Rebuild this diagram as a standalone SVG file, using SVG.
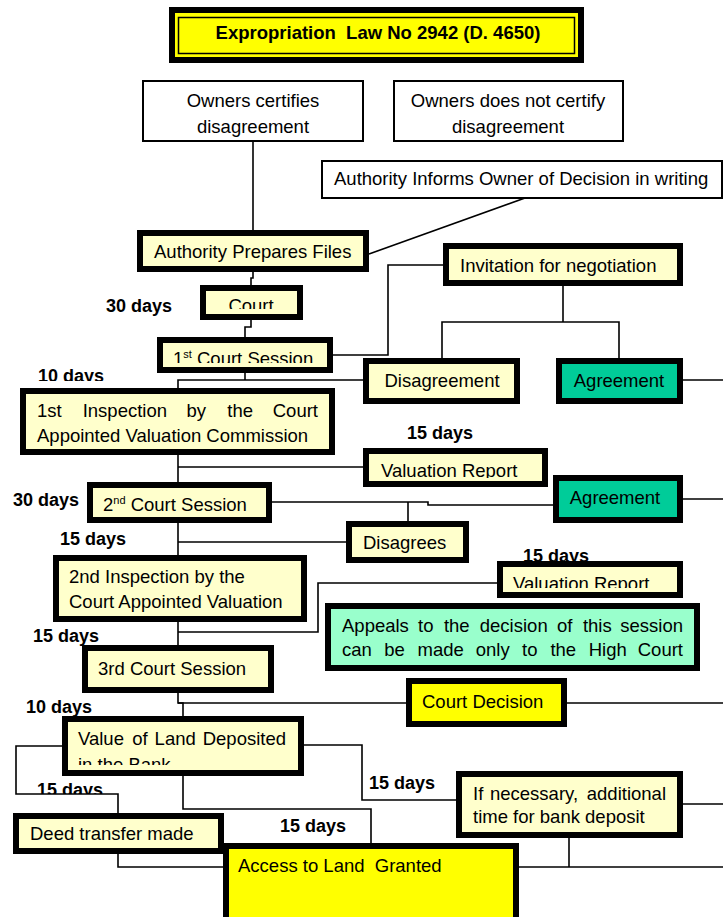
<svg xmlns="http://www.w3.org/2000/svg" width="723" height="917" viewBox="0 0 723 917">
<style>
text{font-family:"Liberation Sans",Arial,sans-serif;font-size:18.5px;fill:#000}
.b{font-weight:bold}
.d{font-weight:bold;font-size:18px}
.tk{stroke:#000;stroke-width:6}
.tn{stroke:#000;stroke-width:2;fill:#fff}
.ly{fill:#FFFFCC}
.gr{fill:#00CC99}
.mt{fill:#99FFCC}
.yl{fill:#FFFF00}
.c{fill:none;stroke:#000;stroke-width:1.6}
.m{text-anchor:middle}
.e{text-anchor:end}
</style>
<defs>
<clipPath id="cpCourt"><rect x="200" y="285" width="103" height="24"/></clipPath>
<clipPath id="cp1st"><rect x="157" y="337" width="176" height="26"/></clipPath>
<clipPath id="cpVR1"><rect x="363" y="448" width="185" height="30"/></clipPath>
<clipPath id="cpVR2"><rect x="497" y="561" width="186" height="27"/></clipPath>
<clipPath id="cpVal"><rect x="62" y="716" width="242" height="49"/></clipPath>
<clipPath id="cp10"><rect x="0" y="355" width="150" height="26"/></clipPath>
<clipPath id="cp15"><rect x="0" y="770" width="150" height="24"/></clipPath>
</defs>
<rect width="723" height="917" fill="#fff"/>

<g id="connectors" class="c">
<path d="M253,141 V231"/>
<path d="M253,272 V278 H251 V285"/>
<path d="M251,320 V327 H245 V337"/>
<path d="M333,355 H388 V265 H443"/>
<path d="M525,198 L369,254"/>
<path d="M245,373 V380"/>
<path d="M178,388 V380 H363"/>
<path d="M563,286 V322"/>
<path d="M442,358 V322 H619 V358"/>
<path d="M683,380 H723"/>
<path d="M178,455 V482"/>
<path d="M178,467 H363"/>
<path d="M272,502 H428 V505 H553"/>
<path d="M408,502 V521"/>
<path d="M683,499 H723"/>
<path d="M178,523 V555"/>
<path d="M178,542 H346"/>
<path d="M178,622 V645"/>
<path d="M178,632 H318 V583 H497"/>
<path d="M178,693 V703 H183 V716"/>
<path d="M178,703 H406"/>
<path d="M567,703 H723"/>
<path d="M62,746 H16 V794 H118 V813"/>
<path d="M304,745 H362 V800 H456"/>
<path d="M183,776 V809 H371 V843"/>
<path d="M118,854 V867 H223"/>
<path d="M683,804 H723"/>
<path d="M569,838 V867"/>
<path d="M519,867 H723"/>
</g>

<g id="labels">
<text class="d" x="106" y="312">30 days</text>
<text class="d" x="38" y="382" clip-path="url(#cp10)">10 days</text>
<text class="d" x="407" y="439">15 days</text>
<text class="d" x="13" y="506">30 days</text>
<text class="d" x="60" y="545">15 days</text>
<text class="d" x="523" y="562">15 days</text>
<text class="d" x="33" y="642">15 days</text>
<text class="d" x="26" y="713">10 days</text>
<text class="d" x="37" y="796" clip-path="url(#cp15)">15 days</text>
<text class="d" x="369" y="789">15 days</text>
<text class="d" x="280" y="832">15 days</text>
</g>

<g id="title">
<rect x="169" y="7" width="415" height="56" fill="#000"/>
<rect x="175" y="13" width="403" height="44" class="yl"/>
<rect x="178.5" y="17.5" width="396" height="36" fill="none" stroke="#000" stroke-width="1.5"/>
<text class="b m" x="378" y="39" xml:space="preserve">Expropriation  Law No 2942 (D. 4650)</text>
</g>

<g id="owners-certifies">
<rect x="143" y="81" width="220" height="60" class="tn"/>
<text class="m" x="253" y="107">Owners certifies</text>
<text class="m" x="253" y="133">disagreement</text>
</g>

<g id="owners-not-certify">
<rect x="394" y="81" width="229" height="60" class="tn"/>
<text class="m" x="508" y="107">Owners does not certify</text>
<text class="m" x="508" y="133">disagreement</text>
</g>

<g id="authority-informs">
<rect x="322" y="161" width="400" height="37" class="tn"/>
<text x="334" y="185">Authority Informs Owner of Decision in writing</text>
</g>

<g id="authority-prepares">
<rect x="140" y="233" width="226" height="36" class="tk ly"/>
<text x="154" y="258">Authority Prepares Files</text>
</g>

<g id="invitation">
<rect x="446" y="246" width="234" height="37" class="tk ly"/>
<text x="460" y="272">Invitation for negotiation</text>
</g>

<g id="court">
<rect x="203" y="288" width="97" height="29" class="tk ly"/>
<text class="m" x="251" y="311.5" clip-path="url(#cpCourt)">Court</text>
</g>

<g id="court-session-1">
<rect x="160" y="340" width="170" height="30" class="tk ly"/>
<text x="173" y="365" clip-path="url(#cp1st)">1<tspan font-size="11" dy="-7">st</tspan><tspan dy="7"> Court Session</tspan></text>
</g>

<g id="disagreement">
<rect x="366" y="361" width="151" height="40" class="tk ly"/>
<text class="m" x="442" y="387">Disagreement</text>
</g>

<g id="agreement-1">
<rect x="559" y="361" width="121" height="40" class="tk gr"/>
<text class="m" x="619" y="387">Agreement</text>
</g>

<g id="inspection-1">
<rect x="23" y="391" width="309" height="61" class="tk ly"/>
<text x="37" y="417">1st</text>
<text x="82.7" y="417">Inspection</text>
<text x="186.5" y="417">by</text>
<text x="227.3" y="417">the</text>
<text class="e" x="318" y="417">Court</text>
<text x="37" y="442">Appointed Valuation Commission</text>
</g>

<g id="valuation-report-1">
<rect x="366" y="451" width="179" height="33" class="tk ly"/>
<text x="381" y="477" clip-path="url(#cpVR1)">Valuation Report</text>
</g>

<g id="agreement-2">
<rect x="556" y="478" width="124" height="42" class="tk gr"/>
<text class="m" x="615" y="504">Agreement</text>
</g>

<g id="court-session-2">
<rect x="90" y="485" width="179" height="35" class="tk ly"/>
<text x="103" y="511">2<tspan font-size="11" dy="-7">nd</tspan><tspan dy="7"> Court Session</tspan></text>
</g>

<g id="disagrees">
<rect x="349" y="524" width="117" height="36" class="tk ly"/>
<text x="363" y="549">Disagrees</text>
</g>

<g id="inspection-2">
<rect x="56" y="558" width="248" height="61" class="tk ly"/>
<text x="69" y="583">2nd Inspection by the</text>
<text x="69" y="608">Court Appointed Valuation</text>
</g>

<g id="valuation-report-2">
<rect x="500" y="564" width="180" height="31" class="tk ly"/>
<text x="513" y="590" clip-path="url(#cpVR2)">Valuation Report</text>
</g>

<g id="appeals">
<rect x="328" y="606" width="369" height="62" class="tk mt"/>
<text x="342" y="632">Appeals</text>
<text x="418" y="632">to</text>
<text x="443.9" y="632">the</text>
<text x="479.8" y="632">decision</text>
<text x="556.9" y="632">of</text>
<text x="582.9" y="632">this</text>
<text class="e" x="683" y="632">session</text>
<text x="342" y="656">can</text>
<text x="384.3" y="656">be</text>
<text x="417.5" y="656">made</text>
<text x="475.8" y="656">only</text>
<text x="522.1" y="656">to</text>
<text x="550.4" y="656">the</text>
<text x="588.7" y="656">High</text>
<text class="e" x="683" y="656">Court</text>
</g>

<g id="court-session-3">
<rect x="85" y="648" width="186" height="42" class="tk ly"/>
<text x="98" y="675">3rd Court Session</text>
</g>

<g id="court-decision">
<rect x="409" y="681" width="155" height="43" class="tk yl"/>
<text x="422" y="708">Court Decision</text>
</g>

<g id="value-deposited">
<rect x="65" y="719" width="236" height="54" class="tk ly"/>
<text x="78" y="745">Value</text>
<text x="132.3" y="745">of</text>
<text x="154.6" y="745">Land</text>
<text class="e" x="286" y="745">Deposited</text>
<text x="78" y="771" clip-path="url(#cpVal)">in the Bank</text>
</g>

<g id="additional-time">
<rect x="459" y="774" width="221" height="61" class="tk ly"/>
<text x="473" y="800">If</text>
<text x="490" y="800">necessary,</text>
<text class="e" x="666" y="800">additional</text>
<text x="473" y="823">time for bank deposit</text>
</g>

<g id="deed-transfer">
<rect x="16" y="816" width="205" height="35" class="tk ly"/>
<text x="30" y="840">Deed transfer made</text>
</g>

<g id="access-granted">
<rect x="226" y="846" width="290" height="75" class="tk yl"/>
<text x="238" y="872" xml:space="preserve">Access to Land  Granted</text>
</g>
</svg>
